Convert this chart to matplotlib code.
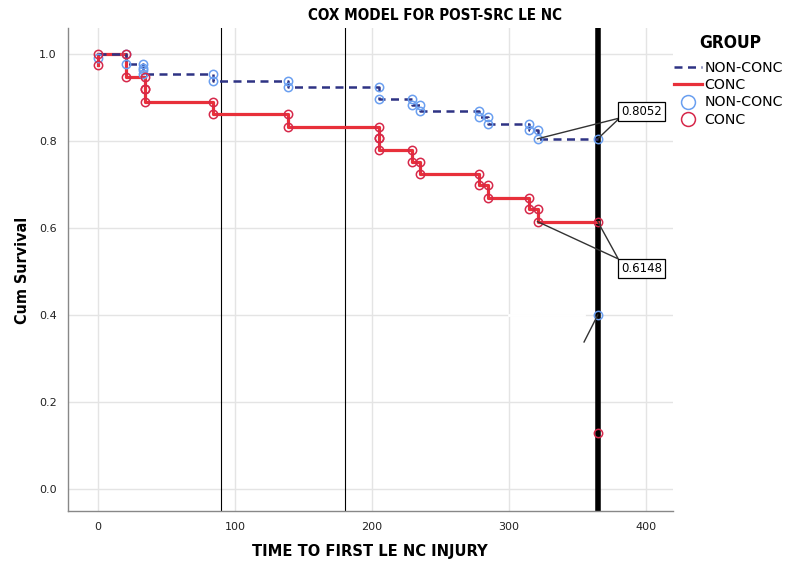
import matplotlib
matplotlib.use("Agg")
import matplotlib.pyplot as plt
from matplotlib.lines import Line2D
import numpy as np

# step data: time of each drop and survival after it
conc_t = [0, 20, 34, 34, 84, 139, 205, 205, 229, 235, 278, 285, 315, 321, 365]
conc_s = [1.0, 0.947, 0.919, 0.890, 0.862, 0.833, 0.806, 0.779, 0.752, 0.725, 0.698, 0.670, 0.643, 0.6148, 0.6148]
non_t = [0, 20, 33, 84, 139, 205, 229, 235, 278, 285, 315, 321, 365]
non_s = [1.0, 0.977, 0.954, 0.938, 0.924, 0.897, 0.883, 0.869, 0.855, 0.839, 0.825, 0.8052, 0.8052]

# stray marks at time 0 and at 365
conc_extra = [(0, 1.0), (0, 0.975), (365, 0.128)]
non_extra = [(0, 0.99), (33, 0.968), (33, 0.963), (365, 0.40)]

vlines_thin = [90, 180]
vline_thick = 365
labels = {"0.8052": (397, 0.869), "0.6148": (397, 0.506)}

red = "#e8303a"
red_mk = "#d6284a"
navy = "#2e3384"
blue_mk = "#6a9ff0"

head_font = dict(fontweight="bold", fontstretch="condensed", family="DejaVu Sans")

fig = plt.figure(figsize=(7.93, 5.67), dpi=100)
ax = fig.add_axes([0.0858, 0.0988, 0.7629, 0.8518])

for x in vlines_thin:
    ax.axvline(x, color="black", lw=0.8, zorder=2)
ax.axvline(vline_thick, color="black", lw=4, zorder=2)

ax.step(non_t, non_s, where="post", color=navy, lw=1.8, dashes=(3.2, 2.2), zorder=4)
ax.step(conc_t, conc_s, where="post", color=red, lw=2.3, zorder=3)
ax.plot([0, 0], [1.0, 0.975], color=red, lw=2.3, zorder=3)


def corners(t, s):
    pts = []
    for i in range(1, len(t)):
        if s[i] != s[i - 1]:
            pts.append((t[i], s[i - 1]))
            pts.append((t[i], s[i]))
    pts.append((t[-1], s[-1]))
    return np.array(pts)


cp = np.vstack([corners(conc_t, conc_s), conc_extra])
npnt = np.vstack([corners(non_t, non_s), non_extra])
ax.plot(npnt[:, 0], npnt[:, 1], "o", mfc="none", mec=blue_mk, mew=1.1, ms=6, zorder=5)
ax.plot(cp[:, 0], cp[:, 1], "o", mfc="none", mec=red_mk, mew=1.1, ms=6, zorder=5)

# leader lines for the labels
ax.plot([321, 381, 365], [0.8052, 0.853, 0.8052], color="#333333", lw=1, zorder=6)
ax.plot([321, 380, 365], [0.6148, 0.529, 0.6148], color="#333333", lw=1, zorder=6)
ax.plot([365, 355], [0.40, 0.338], color="#333333", lw=1, zorder=6)
for txt, (x, y) in labels.items():
    ax.text(x, y, txt, ha="center", va="center", fontsize=8.5, zorder=7,
            bbox=dict(boxstyle="square,pad=0.25", fc="white", ec="black", lw=0.9))

# gap in the 0.4 gridline, as in the original
ax.plot([300, 355], [0.4, 0.4], color="white", lw=2, zorder=1)

ax.set_xlim(-22, 420)
ax.set_ylim(-0.0506, 1.06)
ax.set_xticks([0, 100, 200, 300, 400])
ax.set_yticks([0.0, 0.2, 0.4, 0.6, 0.8, 1.0])
ax.set_yticklabels(["0.0", "0.2", "0.4", "0.6", "0.8", "1.0"])
ax.tick_params(length=0, labelsize=8, labelcolor="#222222", pad=8)
ax.grid(True, color="#e4e4e4", lw=1, zorder=0)
ax.set_axisbelow(True)
for sp in ["top", "right"]:
    ax.spines[sp].set_visible(False)
for sp in ["left", "bottom"]:
    ax.spines[sp].set_color("#888888")
    ax.spines[sp].set_linewidth(1)

fig.text(0.467, 0.027, "TIME TO FIRST LE NC INJURY", ha="center", va="center",
         fontsize=11.8, **head_font)
fig.text(0.028, 0.523, "Cum Survival", ha="center", va="center", rotation=90,
         fontsize=11.5, **head_font)
fig.text(0.549, 0.972, "COX MODEL FOR POST-SRC LE NC", ha="center", va="center",
         fontsize=10.9, **head_font)
fig.text(0.9206, 0.924, "GROUP", ha="center", va="center", fontsize=12.5, **head_font)

handles = [
    Line2D([], [], color=navy, lw=1.8, dashes=(3.2, 2.2)),
    Line2D([], [], color=red, lw=2.3),
    Line2D([], [], ls="none", marker="o", mfc="none", mec=blue_mk, mew=1.1, ms=10),
    Line2D([], [], ls="none", marker="o", mfc="none", mec=red_mk, mew=1.1, ms=10),
]
leg = fig.legend(handles, ["NON-CONC", "CONC", "NON-CONC", "CONC"],
                 loc="upper left", bbox_to_anchor=(0.850, 0.892), frameon=False,
                 fontsize=10.2, handlelength=2.0, handletextpad=0.15, labelspacing=0.22,
                 borderaxespad=0, borderpad=0)

fig.savefig("out.png", dpi=100)
